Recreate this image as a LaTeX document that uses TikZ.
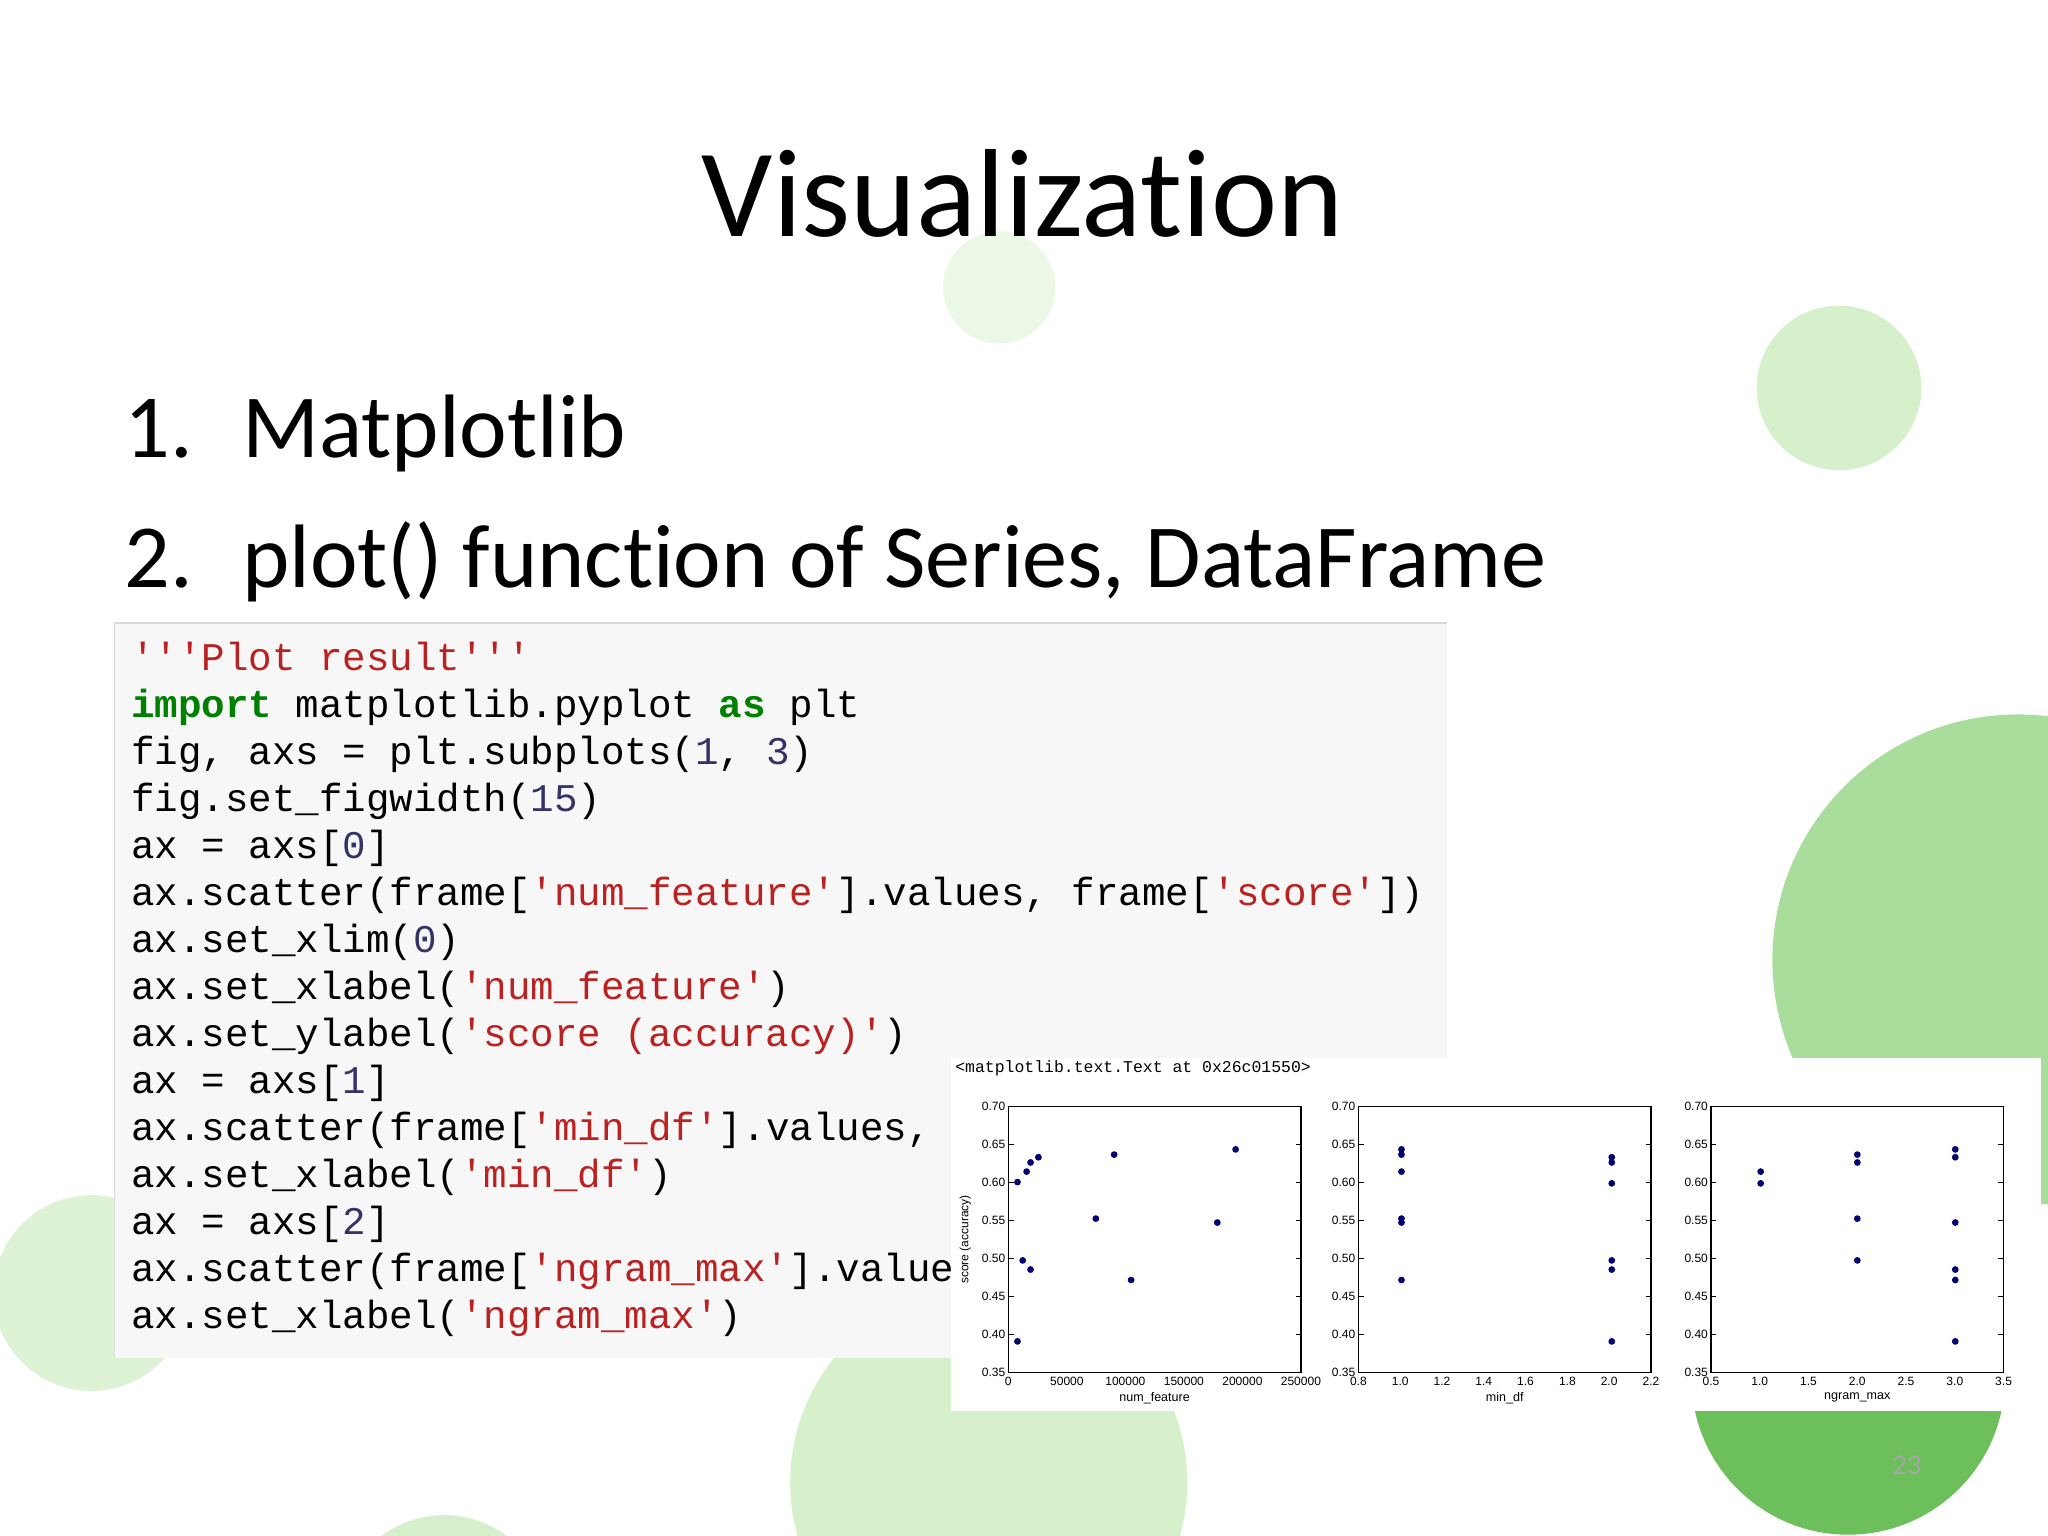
\documentclass[tikz,border=0pt]{standalone}
\usepackage{fontspec}
\setmainfont[Ligatures=NoCommon]{Carlito}
\newfontfamily\codefont{Liberation Mono}
\newfontfamily\plotfont{Liberation Sans}
\definecolor{strc}{HTML}{BA2121}
\definecolor{kwc}{HTML}{008000}
\definecolor{numc}{HTML}{333366}
\definecolor{lg}{HTML}{D6F0CC}
\definecolor{mg}{HTML}{A9DD9C}
\definecolor{dg}{HTML}{6CBF5A}
\definecolor{codebg}{HTML}{F7F7F8}
\newcommand\Sx[1]{\textcolor{strc}{#1}}
\newcommand\Kw[1]{\textcolor{kwc}{\bfseries #1}}
\newcommand\Nm[1]{\textcolor{numc}{#1}}
\begin{document}
\begin{tikzpicture}[x=0.5pt,y=-0.5pt,
 codeline/.style={anchor=base west,inner sep=0,font=\codefont\fontsize{15}{15}\selectfont},
 tick/.style={anchor=east,inner sep=1pt,font=\plotfont\fontsize{4.6}{5}\selectfont},
 xtick/.style={anchor=north,inner sep=1pt,font=\plotfont\fontsize{4.6}{5}\selectfont},
 bullet/.style={anchor=base west,inner sep=0,font=\fontsize{34.5}{34.5}\selectfont},
 dot/.style={fill=blue!45!black,draw=none}]
\useasboundingbox (0,0) rectangle (1568,1176);
\fill[white] (0,0) rectangle (1568,1176);
% background circles
\fill[lg!50] (765,220) circle (43);
\fill[lg] (1408,297) circle (63);
\fill[mg] (1545,735) circle (188);
\fill[lg!80] (70,990) circle (75);
\fill[lg] (757,1135) circle (152);
\fill[dg] (1415,1055) circle (120);
\fill[lg] (340,1240) circle (80);
% code box
\fill[codebg] (88,477) rectangle (1108,1040);
\draw[black!15] (88,1040) -- (88,477) -- (1108,477);
\node[codeline] (c1) at (100,513) {\Sx{'''Plot result'''}};
\node[codeline] (c2) at (100,549) {\Kw{import} matplotlib.pyplot \Kw{as} plt};
\node[codeline] (c3) at (100,585) {fig, axs = plt.subplots(\Nm{1}, \Nm{3})};
\node[codeline] (c4) at (100,621) {fig.set\_figwidth(\Nm{15})};
\node[codeline] (c5) at (100,657) {ax = axs[\Nm{0}]};
\node[codeline] (c6) at (100,693) {ax.scatter(frame[\Sx{'num\_feature'}].values, frame[\Sx{'score'}])};
\node[codeline] (c7) at (100,729) {ax.set\_xlim(\Nm{0})};
\node[codeline] (c8) at (100,765) {ax.set\_xlabel(\Sx{'num\_feature'})};
\node[codeline] (c9) at (100,801) {ax.set\_ylabel(\Sx{'score (accuracy)'})};
\node[codeline] (c10) at (100,837) {ax = axs[\Nm{1}]};
\node[codeline] (c11) at (100,873) {ax.scatter(frame[\Sx{'min\_df'}].values,};
\node[codeline] (c12) at (100,909) {ax.set\_xlabel(\Sx{'min\_df'})};
\node[codeline] (c13) at (100,945) {ax = axs[\Nm{2}]};
\node[codeline] (c14) at (100,981) {ax.scatter(frame[\Sx{'ngram\_max'}].values};
\node[codeline] (c15) at (100,1017) {ax.set\_xlabel(\Sx{'ngram\_max'})};
% plot panel
\fill[white] (728,810) rectangle (1563,1080);
\node[anchor=west,inner sep=0,font=\codefont\fontsize{6.3}{7}\selectfont] (out) at (731,818) {<matplotlib.text.Text at 0x26c01550>};
\foreach \bx/\xa/\xb/\xl in {772/0/250000/num\_feature,1040/0.8/2.2/min\_df,1310/0.5/3.5/ngram\_max}{
  \draw[black,line width=0.5pt] (\bx,847) rectangle ++(224,204);
  \foreach \v [count=\i from 0] in {0.35,0.40,0.45,0.50,0.55,0.60,0.65,0.70}{
    \pgfmathsetmacro\yy{1051-\i*29.14}
    \node[tick] at (\bx,\yy) {\v};
    \draw[line width=0.3pt] (\bx,\yy) -- ++(4,0) (\bx+224,\yy) -- ++(-4,0);
  }
  \node[xtick,font=\plotfont\fontsize{4.8}{5}\selectfont] at (\bx+112,1064) {\xl};
}
\foreach \t [count=\i from 0] in {0,50000,100000,150000,200000,250000}
  {\node[xtick] at (772+\i*44.8,1052) {\t};}
\foreach \t [count=\i from 0] in {0.8,1.0,1.2,1.4,1.6,1.8,2.0,2.2}
  {\node[xtick] at (1040+\i*32,1052) {\t};}
\foreach \t [count=\i from 0] in {0.5,1.0,1.5,2.0,2.5,3.0,3.5}
  {\node[xtick] at (1310+\i*37.33,1052) {\t};}
\node[rotate=90,inner sep=0,font=\plotfont\fontsize{4.6}{5}\selectfont] (yl) at (739,949) {score (accuracy)};
\foreach \p in {(779,905),(786,897),(789,890),(795,886),(783,965),(789,972),(779,1027),(839,933),(853,884),(866,980),(932,936),(946,880),
 (1073,880),(1073,884),(1073,897),(1073,933),(1073,936),(1073,980),(1234,886),(1234,890),(1234,906),(1234,965),(1234,972),(1234,1027),
 (1348,897),(1348,906),(1422,884),(1422,890),(1422,933),(1422,965),(1497,880),(1497,886),(1497,936),(1497,972),(1497,980),(1497,1027)}
  {\fill[dot] \p circle (2.6);}
% texts
\node[font=\fontsize{48}{48}\selectfont,inner sep=0] (title) at (783,148) {Visualization};
\node[bullet] (n1) at (95,350) {1.};
\node[bullet] (b1) at (185,350) {Matplotlib};
\node[bullet] (n2) at (95,450) {2.};
\node[bullet] (b2) at (185,450) {plot() function of Series, DataFrame};
\node[text=black!35,font=\fontsize{11}{11}\selectfont] (pg) at (1460,1122) {23};
\end{tikzpicture}
\end{document}
